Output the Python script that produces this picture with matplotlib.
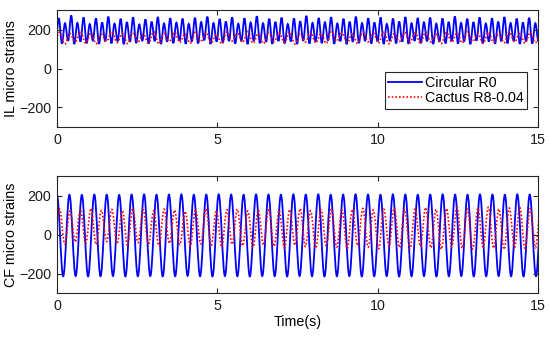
import matplotlib
matplotlib.use('Agg')
import matplotlib.pyplot as plt
from matplotlib.path import Path
from matplotlib.patches import PathPatch
from matplotlib.lines import Line2D

plt.rcParams['font.family'] = ['Liberation Sans', 'DejaVu Sans']
plt.rcParams['font.size'] = 10.3

# Extremes: each trough sits half a period before its peak
# CF, Circular R0
cf_blue_t0, cf_blue_period = 0.0, 0.388
cf_blue_peak = [201, 204, 203, 205, 204, 203, 205, 206, 204, 205,
                206, 204, 205, 206, 205, 204, 206, 205, 204, 206,
                205, 206, 204, 205, 206, 205, 204, 206, 205, 204,
                205, 206, 205, 204, 206, 205, 204, 206, 205, 204]
cf_blue_trough = [-210, -214, -213, -215, -214, -213, -215, -214, -213, -215,
                  -214, -212, -214, -215, -213, -214, -215, -213, -214, -215,
                  -213, -214, -215, -214, -213, -215, -214, -213, -215, -214,
                  -213, -215, -214, -213, -215, -214, -213, -214, -215, -214]

# CF, Cactus R8-0.04
cf_red_t0, cf_red_period = 0.08, 0.3262
cf_red_peak = [131, 119, 126, 134, 124, 129, 121, 133, 127, 122,
               130, 125, 119, 128, 132, 123, 127, 130, 121, 126,
               131, 124, 128, 133, 122, 127, 131, 125, 129, 134,
               126, 130, 136, 128, 132, 138, 129, 133, 139, 130,
               135, 140, 131, 136, 138, 132, 134]
cf_red_trough = [-40, -50, -38, -46, -52, -36, -48, -55, -42, -50,
                 -58, -45, -52, -60, -48, -55, -64, -50, -58, -66,
                 -53, -60, -68, -55, -62, -70, -57, -64, -72, -58,
                 -65, -73, -60, -67, -74, -62, -68, -75, -63, -70,
                 -74, -64, -70, -76, -66, -70, -68]

# IL, Circular R0
il_blue_t0, il_blue_period = 0.057, 0.193
il_blue_peak = [258, 232, 272, 234, 262, 228, 257, 236, 266, 230,
                255, 238, 262, 226, 252, 240, 264, 231, 258, 235,
                256, 229, 260, 238, 266, 233, 254, 241, 262, 230,
                258, 236, 268, 232, 255, 239, 261, 228, 257, 242,
                270, 234, 259, 237, 263, 231, 255, 240, 266, 233,
                258, 236, 262, 229, 256, 241, 264, 232, 259, 237,
                261, 230, 257, 239, 267, 234, 255, 238, 262, 231,
                258, 240, 264, 233, 256, 236, 260, 232, 255]
il_blue_trough = [140, 128, 142, 126, 138, 130, 144, 127, 139, 129,
                  141, 125, 137, 131, 143, 128, 140, 126, 138, 130,
                  142, 127, 139, 129, 145, 126, 138, 131, 141, 128,
                  140, 125, 143, 130, 137, 127, 141, 129, 139, 126,
                  142, 128, 138, 130, 144, 127, 140, 125, 137, 131,
                  141, 128, 139, 126, 143, 129, 138, 127, 142, 130,
                  140, 126, 137, 129, 141, 128, 139, 125, 143, 130,
                  138, 127, 140, 129, 142, 126, 139, 128, 141]

# IL, Cactus R8-0.04
il_red_t0, il_red_period = 0.08, 0.3262
il_red_peak = [186, 178, 188, 182, 176, 190, 180, 185, 177, 189,
               181, 186, 179, 188, 183, 176, 187, 181, 190, 178,
               185, 182, 188, 177, 186, 180, 191, 183, 178, 187,
               181, 189, 179, 185, 183, 188, 177, 186, 182, 190,
               179, 185, 181, 188, 180, 184, 182]
il_red_trough = [132, 125, 138, 130, 127, 140, 133, 128, 136, 131,
                 126, 139, 134, 129, 137, 132, 127, 141, 135, 130,
                 128, 138, 133, 126, 136, 131, 129, 140, 134, 128,
                 137, 132, 127, 139, 133, 130, 136, 128, 135, 131,
                 138, 129, 134, 132, 137, 130, 133]

x_ticks = [0, 5, 10, 15]
y_ticks = [-200, 0, 200]
labels = ['Circular R0', 'Cactus R8-0.04']


def wave(ax, t0, period, peaks, troughs, **kw):
    # smooth bezier through the read extremes, flat tangent at each one
    pts = []
    for k in range(len(peaks)):
        pts.append((t0 + (k - 0.5) * period, troughs[k]))
        pts.append((t0 + k * period, peaks[k]))
    verts = [pts[0]]
    codes = [Path.MOVETO]
    for (xa, ya), (xb, yb) in zip(pts[:-1], pts[1:]):
        d = 0.3634 * (xb - xa)
        verts += [(xa + d, ya), (xb - d, yb), (xb, yb)]
        codes += [Path.CURVE4] * 3
    ax.add_patch(PathPatch(Path(verts, codes), fill=False, **kw))


fig = plt.figure(figsize=(5.5, 3.38), dpi=100)
ax1 = fig.add_axes([0.1036, 0.6243, 0.8745, 0.346])
ax2 = fig.add_axes([0.1036, 0.1331, 0.8745, 0.346])

blue = dict(edgecolor='#0000ff', linewidth=1.3)
red = dict(edgecolor='#ff0000', linewidth=1.2, linestyle=(0, (1, 1.2)))

wave(ax1, il_blue_t0, il_blue_period, il_blue_peak, il_blue_trough, **blue)
wave(ax1, il_red_t0, il_red_period, il_red_peak, il_red_trough, **red)
wave(ax2, cf_blue_t0, cf_blue_period, cf_blue_peak, cf_blue_trough, **blue)
wave(ax2, cf_red_t0, cf_red_period, cf_red_peak, cf_red_trough, **red)

for ax, name in [(ax1, 'IL micro strains'), (ax2, 'CF micro strains')]:
    ax.set_xlim(0, 15)
    ax.set_ylim(-300, 300)
    ax.set_xticks(x_ticks)
    ax.set_yticks(y_ticks)
    ax.set_ylabel(name, labelpad=1)
    ax.tick_params(direction='in', top=True, right=True, length=3.5,
                   width=0.8, colors='#262626', labelcolor='#1a1a1a', pad=4)
    for s in ax.spines.values():
        s.set_color('#262626')
        s.set_linewidth(0.8)

ax2.set_xlabel('Time(s)', labelpad=2)

handles = [Line2D([], [], color='#0000ff', lw=1.3),
           Line2D([], [], color='#ff0000', lw=1.2, ls=(0, (1, 1.2)))]
leg = ax1.legend(handles, labels, loc='lower right',
                 bbox_to_anchor=(0.977, 0.154), borderaxespad=0,
                 fancybox=False, framealpha=1, edgecolor='#262626',
                 handlelength=2.4, handletextpad=0.15, borderpad=0.25,
                 labelspacing=0.1, fontsize=10.3)
leg.get_frame().set_linewidth(0.8)

fig.savefig('out.png', dpi=100)
